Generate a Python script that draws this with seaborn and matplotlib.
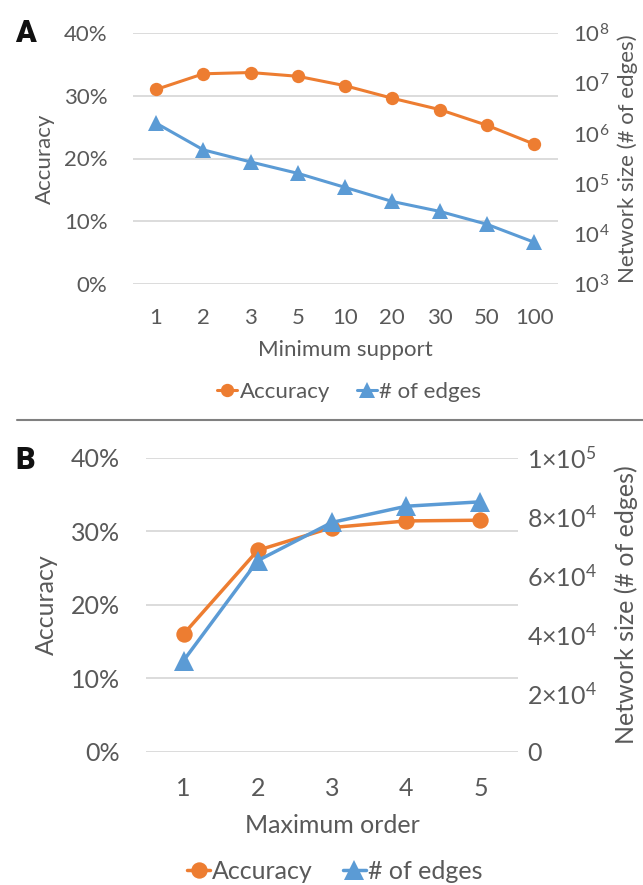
import matplotlib
matplotlib.use("Agg")
import matplotlib.pyplot as plt
from matplotlib.lines import Line2D
from matplotlib.ticker import FixedLocator, FuncFormatter, NullLocator, PercentFormatter
import seaborn as sns

# Panel A: effect of the minimum support threshold
support_labels = ["1", "2", "3", "5", "10", "20", "30", "50", "100"]
support_accuracy = [31.0, 33.5, 33.7, 33.1, 31.6, 29.6, 27.8, 25.3, 22.3]
support_edges = [1.6e6, 4.7e5, 2.7e5, 1.6e5, 8.4e4, 4.4e4, 2.8e4, 1.55e4, 6.8e3]

# Panel B: effect of the maximum order
order_labels = ["1", "2", "3", "4", "5"]
order_accuracy = [16.0, 27.4, 30.5, 31.4, 31.5]
order_edges = [3.1e4, 6.5e4, 7.8e4, 8.35e4, 8.5e4]

accuracy_ticks = [0, 10, 20, 30, 40]
log_edge_ticks = [1e3, 1e4, 1e5, 1e6, 1e7, 1e8]
lin_edge_ticks = [0, 2e4, 4e4, 6e4, 8e4, 1e5]

ORANGE = "#ED7D31"
BLUE = "#5B9BD5"
GRAY = "#595959"
GRID = "#D9D9D9"

sns.set_theme(style="white")
plt.rcParams["font.family"] = ["Lato", "DejaVu Sans"]

W, H = 643, 885
fig = plt.figure(figsize=(W / 100, H / 100), dpi=100)


def rect(x0, y0, x1, y1):
    """Pixel box (top-left origin) -> figure fraction rectangle."""
    return [x0 / W, 1 - y1 / H, (x1 - x0) / W, (y1 - y0) / H]


def sci_label(v, _pos):
    if v == 0:
        return "0"
    exp = 4 if v < 1e5 else 5
    mant = int(round(v / 10 ** exp))
    return f"{mant}×$\\mathdefault{{10^{{{exp}}}}}$"


def panel(box, labels, acc, edges, log, fs, ms_c, ms_t, lw, pads, label_pos, xlabel):
    ax = fig.add_axes(rect(*box))
    ax2 = ax.twinx()
    if log:
        ax2.set_yscale("log")

    sns.pointplot(x=labels, y=acc, order=labels, color=ORANGE, markers="o",
                  linestyles="-", errorbar=None, ax=ax,
                  markersize=ms_c, linewidth=lw, markeredgewidth=0)
    sns.pointplot(x=labels, y=edges, order=labels, color=BLUE, markers="^",
                  linestyles="-", errorbar=None, ax=ax2,
                  markersize=ms_t, linewidth=lw, markeredgewidth=0)

    ax.set_xlim(-0.5, len(labels) - 0.5)
    ax.set_ylim(0, 40)
    ax.yaxis.set_major_locator(FixedLocator(accuracy_ticks))
    ax.yaxis.set_major_formatter(PercentFormatter(xmax=100, decimals=0))

    if log:
        ax2.set_ylim(1e3, 1e8)
        ax2.yaxis.set_major_locator(FixedLocator(log_edge_ticks))
        ax2.yaxis.set_minor_locator(NullLocator())
    else:
        ax2.set_ylim(0, 1e5)
        ax2.yaxis.set_major_locator(FixedLocator(lin_edge_ticks))
        ax2.yaxis.set_major_formatter(FuncFormatter(sci_label))

    ax.grid(axis="y", color=GRID, lw=1.3)
    ax.grid(axis="x", visible=False)
    ax2.grid(False)
    ax.set_axisbelow(True)
    for a in (ax, ax2):
        for s in a.spines.values():
            s.set_visible(False)

    ax.tick_params(axis="y", length=0, labelsize=fs, labelcolor=GRAY, pad=pads[0])
    ax.tick_params(axis="x", length=0, labelsize=fs, labelcolor=GRAY, pad=pads[1])
    ax2.tick_params(axis="y", length=0, labelsize=fs, labelcolor=GRAY, pad=pads[2])

    ax.set_ylabel("Accuracy", fontsize=fs, color=GRAY, va="center")
    ax.yaxis.set_label_coords(label_pos[0], 0.5)
    ax2.set_ylabel("Network size (# of edges)", fontsize=fs, color=GRAY, va="center")
    ax2.yaxis.set_label_coords(label_pos[1], 0.5)
    ax.set_xlabel(xlabel, fontsize=fs, color=GRAY, va="center")
    ax.xaxis.set_label_coords(0.5, label_pos[2])
    return ax, ax2


panel((132.5, 33, 557.7, 284), support_labels, support_accuracy, support_edges,
      True, 16, 9.6, 11, 2.2, (18, 17, 11), (-0.206, 1.165, -0.263),
      "Minimum support")
panel((146.4, 457.7, 517.5, 751.8), order_labels, order_accuracy, order_edges,
      False, 18, 11.8, 15, 2.5, (19, 18, 7), (-0.269, 1.294, -0.249),
      "Maximum order")


def legend(cx, cy, fs, ms_c, ms_t, lw):
    handles = [
        Line2D([], [], color=ORANGE, marker="o", markersize=ms_c, lw=lw,
               markeredgewidth=0, label="Accuracy"),
        Line2D([], [], color=BLUE, marker="^", markersize=ms_t, lw=lw,
               markeredgewidth=0, label="# of edges"),
    ]
    fig.legend(handles=handles, loc="center", bbox_to_anchor=(cx / W, 1 - cy / H),
               ncol=2, frameon=False, fontsize=fs, labelcolor=GRAY,
               handlelength=0.9, handletextpad=0.1, columnspacing=1.2)


legend(349, 391.7, 16, 9.6, 11, 2.2)
legend(335, 871.7, 18, 11.8, 15, 2.5)

# Panel letters and divider
fig.text(25 / W, 1 - 33 / H, "A", fontsize=22, fontweight="black",
         family=["Roboto", "DejaVu Sans"], ha="center", va="center", color="#111111")
fig.text(25 / W, 1 - 460 / H, "B", fontsize=22, fontweight="black",
         family=["Roboto", "DejaVu Sans"], ha="center", va="center", color="#111111")
fig.add_artist(Line2D([17 / W, 1.0], [1 - 420 / H, 1 - 420 / H],
                      transform=fig.transFigure, color="#808080", lw=1.5))

fig.savefig("out.png", dpi=100, facecolor="white")
